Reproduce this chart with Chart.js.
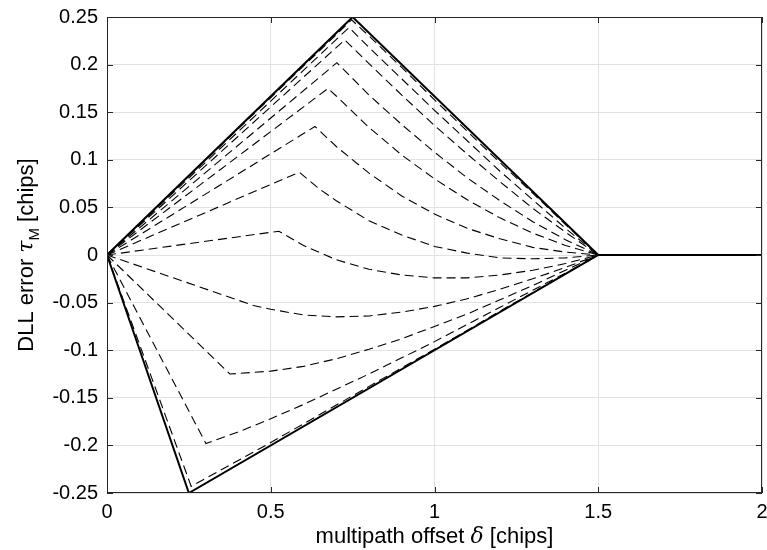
<!DOCTYPE html>
<html>
<head>
<meta charset="utf-8">
<script src="https://cdn.jsdelivr.net/npm/chart.js@4.4.1/dist/chart.umd.min.js"></script>
<style>
html, body { margin: 0; padding: 0; background: #fff; }
</style>
</head>
<body>
<canvas id="myChart" width="767" height="550"></canvas>
<script>
// [multipath offset delta (chips), DLL error (chips)]
var upperEnvelope = [[0, 0], [0.75, 0.25], [1.5, 0], [2, 0]];
var lowerEnvelope = [[0, 0], [0.25, -0.25], [1.5, 0], [2, 0]];

var phase01 = [[0, 0], [0.747, 0.247], [0.8, 0.230], [0.9, 0.197], [1.0, 0.163], [1.1, 0.130], [1.2, 0.097], [1.3, 0.065], [1.4, 0.032], [1.5, 0]];
var phase02 = [[0, 0], [0.739, 0.239], [0.8, 0.218], [0.9, 0.185], [1.0, 0.152], [1.1, 0.120], [1.2, 0.088], [1.3, 0.058], [1.4, 0.028], [1.5, 0]];
var phase03 = [[0, 0], [0.726, 0.226], [0.8, 0.201], [0.9, 0.168], [1.0, 0.136], [1.1, 0.106], [1.2, 0.077], [1.3, 0.049], [1.4, 0.024], [1.5, 0]];
var phase04 = [[0, 0], [0.702, 0.202], [0.8, 0.168], [0.9, 0.137], [1.0, 0.108], [1.1, 0.081], [1.2, 0.057], [1.3, 0.035], [1.4, 0.016], [1.5, 0]];
var phase05 = [[0, 0], [0.675, 0.175], [0.7, 0.167], [0.8, 0.134], [0.9, 0.105], [1.0, 0.080], [1.1, 0.058], [1.2, 0.039], [1.3, 0.023], [1.4, 0.010], [1.5, 0]];
var phase06 = [[0, 0], [0.635, 0.135], [0.7, 0.114], [0.8, 0.086], [0.9, 0.062], [1.0, 0.043], [1.1, 0.028], [1.2, 0.017], [1.3, 0.008], [1.4, 0.003], [1.5, 0]];
var phase07 = [[0, 0], [0.587, 0.087], [0.65, 0.069], [0.7, 0.057], [0.8, 0.036], [0.9, 0.021], [1.0, 0.009], [1.1, 0.002], [1.2, -0.003], [1.3, -0.004], [1.4, -0.003], [1.5, 0]];
var phase08 = [[0, 0], [0.525, 0.025], [0.6, 0.010], [0.7, -0.005], [0.8, -0.015], [0.9, -0.021], [1.0, -0.024], [1.1, -0.024], [1.2, -0.021], [1.3, -0.016], [1.4, -0.009], [1.5, 0]];
var phase09 = [[0, 0], [0.447, -0.053], [0.5, -0.057], [0.6, -0.063], [0.7, -0.065], [0.8, -0.064], [0.9, -0.060], [1.0, -0.054], [1.1, -0.046], [1.2, -0.036], [1.3, -0.025], [1.4, -0.013], [1.5, 0]];
var phase10 = [[0, 0], [0.375, -0.125], [0.5, -0.122], [0.6, -0.117], [0.7, -0.109], [0.8, -0.099], [0.9, -0.088], [1.0, -0.075], [1.1, -0.062], [1.2, -0.047], [1.3, -0.032], [1.4, -0.016], [1.5, 0]];
var phase11 = [[0, 0], [0.302, -0.198], [0.4, -0.186], [0.5, -0.172], [0.6, -0.157], [0.7, -0.141], [0.8, -0.125], [0.9, -0.108], [1.0, -0.091], [1.1, -0.073], [1.2, -0.055], [1.3, -0.037], [1.4, -0.019], [1.5, 0]];
var phase12 = [[0, 0], [0.257, -0.243], [0.5, -0.197], [0.8, -0.138], [1.0, -0.099], [1.2, -0.059], [1.5, 0]];

var xTicks = [0, 0.5, 1, 1.5, 2];
var yTicks = [-0.25, -0.2, -0.15, -0.1, -0.05, 0, 0.05, 0.1, 0.15, 0.2, 0.25];

var FONT = '"Liberation Sans", Arial, Helvetica, sans-serif';
var INK = '#262626';

function toPoints(arr) {
    return arr.map(function (p) { return { x: p[0], y: p[1] }; });
}

function solid(arr) {
    return { data: toPoints(arr), borderColor: '#000', borderWidth: 2, showLine: true, pointRadius: 0, fill: false };
}

function dashed(arr) {
    return { data: toPoints(arr), borderColor: '#000', borderWidth: 1.1, borderDash: [9, 5], showLine: true, pointRadius: 0, fill: false };
}

// box, inward ticks and axis titles the matlab way
var frame = {
    id: 'frame',
    afterDraw: function (chart) {
        var ctx = chart.ctx;
        var a = chart.chartArea;
        var xs = chart.scales.x, ys = chart.scales.y;
        ctx.save();
        ctx.strokeStyle = INK;
        ctx.lineWidth = 1;
        ctx.strokeRect(a.left + 0.5, a.top + 0.5, a.right - a.left - 1, a.bottom - a.top - 1);
        ctx.beginPath();
        xTicks.forEach(function (t) {
            var px = Math.round(xs.getPixelForValue(t)) + 0.5;
            ctx.moveTo(px, a.bottom); ctx.lineTo(px, a.bottom - 6);
            ctx.moveTo(px, a.top); ctx.lineTo(px, a.top + 6);
        });
        yTicks.forEach(function (t) {
            var py = Math.round(ys.getPixelForValue(t)) + 0.5;
            ctx.moveTo(a.left, py); ctx.lineTo(a.left + 6, py);
            ctx.moveTo(a.right, py); ctx.lineTo(a.right - 6, py);
        });
        ctx.stroke();

        ctx.fillStyle = '#000';
        ctx.textBaseline = 'alphabetic';
        // x title
        var parts = [
            { t: 'multipath offset ', f: '22px ' + FONT },
            { t: '\u03b4', f: 'italic 22px "DejaVu Serif", serif' },
            { t: ' [chips]', f: '22px ' + FONT }
        ];
        var w = 0;
        parts.forEach(function (p) { ctx.font = p.f; p.w = ctx.measureText(p.t).width; w += p.w; });
        var x0 = (a.left + a.right) / 2 - w / 2;
        parts.forEach(function (p) { ctx.font = p.f; ctx.fillText(p.t, x0, 543); x0 += p.w; });

        // y title, rotated
        ctx.translate(33, (a.top + a.bottom) / 2);
        ctx.rotate(-Math.PI / 2);
        var yparts = [
            { t: 'DLL error ', f: '22px ' + FONT, dy: 0 },
            { t: '\u03c4', f: 'italic 22px "DejaVu Serif", serif', dy: 0 },
            { t: 'M', f: '15px ' + FONT, dy: 6 },
            { t: ' [chips]', f: '22px ' + FONT, dy: 0 }
        ];
        w = 0;
        yparts.forEach(function (p) { ctx.font = p.f; p.w = ctx.measureText(p.t).width; w += p.w; });
        x0 = -w / 2;
        yparts.forEach(function (p) { ctx.font = p.f; ctx.fillText(p.t, x0, p.dy); x0 += p.w; });
        ctx.restore();
    }
};

var ctx = document.getElementById('myChart').getContext('2d');
var myChart = new Chart(ctx, {
    type: 'scatter',
    data: {
        datasets: [
            solid(upperEnvelope),
            solid(lowerEnvelope),
            dashed(phase01), dashed(phase02), dashed(phase03), dashed(phase04),
            dashed(phase05), dashed(phase06), dashed(phase07), dashed(phase08),
            dashed(phase09), dashed(phase10), dashed(phase11), dashed(phase12)
        ]
    },
    options: {
        responsive: false,
        animation: false,
        layout: { padding: { left: 0, right: 5, top: 17, bottom: 0 } },
        plugins: { legend: { display: false }, tooltip: { enabled: false } },
        scales: {
            x: {
                type: 'linear',
                min: 0,
                max: 2,
                afterFit: function (s) { s.height = 57; s.paddingLeft = 0; s.paddingRight = 0; },
                afterBuildTicks: function (s) { s.ticks = xTicks.map(function (v) { return { value: v }; }); },
                ticks: {
                    color: '#000',
                    padding: 7,
                    font: { family: FONT, size: 20 },
                    callback: function (v) { return String(v); }
                },
                grid: { color: '#e2e2e2', drawTicks: false },
                border: { display: false }
            },
            y: {
                min: -0.25,
                max: 0.25,
                afterFit: function (s) { s.width = 107; s.paddingTop = 0; s.paddingBottom = 0; },
                afterBuildTicks: function (s) { s.ticks = yTicks.map(function (v) { return { value: v }; }); },
                ticks: {
                    color: '#000',
                    padding: 9,
                    font: { family: FONT, size: 20 },
                    callback: function (v) { return String(parseFloat(v.toFixed(2))); }
                },
                grid: { color: '#e2e2e2', drawTicks: false },
                border: { display: false }
            }
        }
    },
    plugins: [frame]
});
</script>
</body>
</html>
